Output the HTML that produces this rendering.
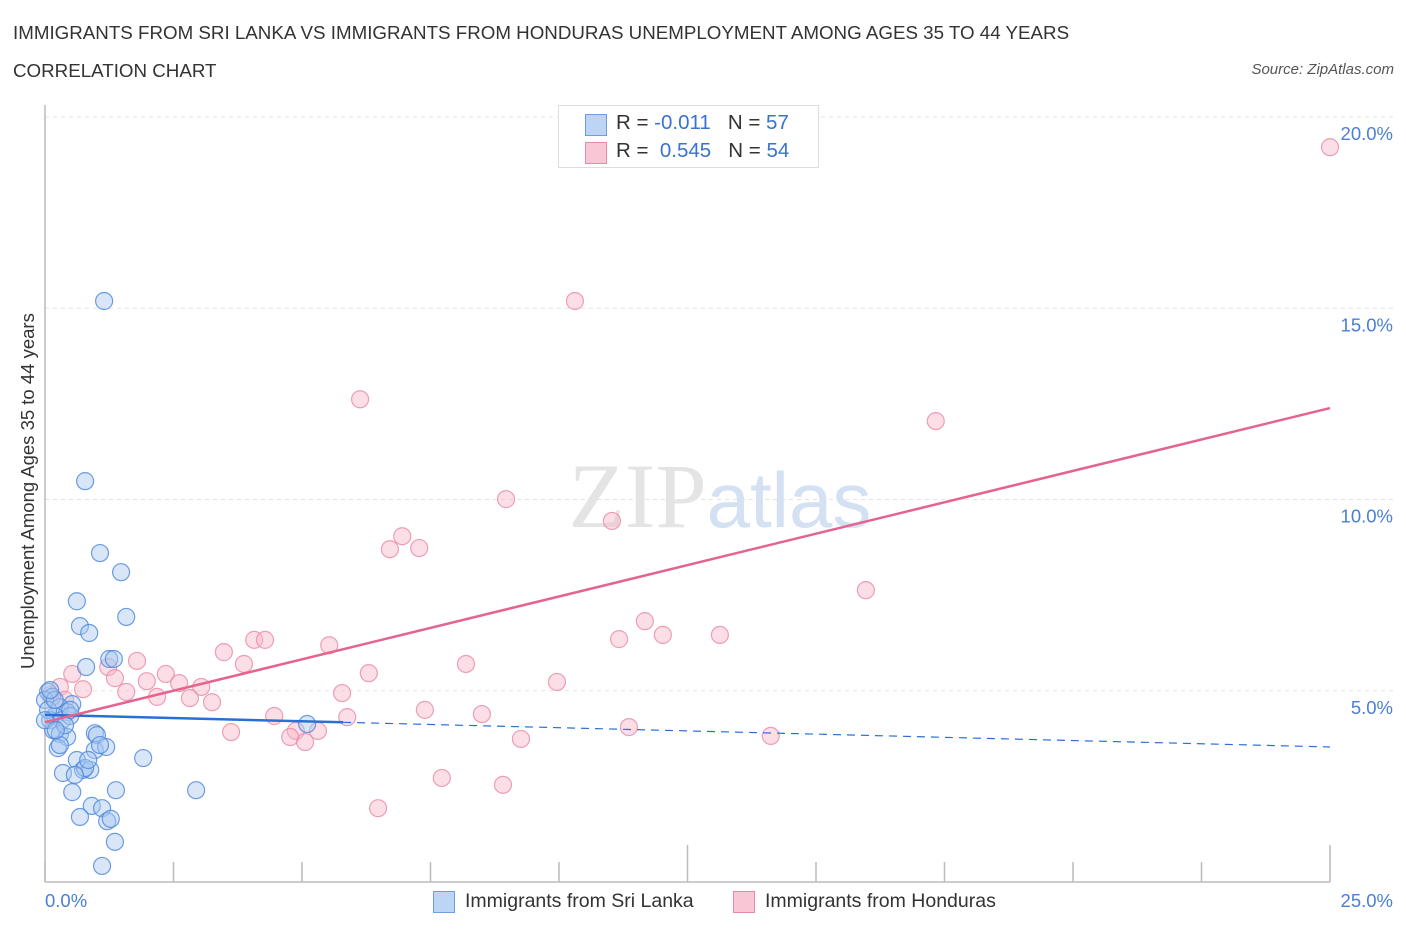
<!DOCTYPE html>
<html><head><meta charset="utf-8"><style>
body{margin:0;background:#fff;font-family:"Liberation Sans",sans-serif;}
#wrap{position:relative;width:1406px;height:930px;overflow:hidden;}
.t{position:absolute;white-space:nowrap;}
</style></head><body>
<div id="wrap">
<div class="t" style="left:13px;top:22px;font-size:18.75px;color:#333;">IMMIGRANTS FROM SRI LANKA VS IMMIGRANTS FROM HONDURAS UNEMPLOYMENT AMONG AGES 35 TO 44 YEARS</div>
<div class="t" style="left:13px;top:60px;font-size:18.75px;color:#333;">CORRELATION CHART</div>
<div class="t" style="right:12px;top:61px;font-size:15px;color:#555;font-style:italic;">Source: ZipAtlas.com</div>
<svg id="svg" width="1406" height="930" style="position:absolute;left:0;top:0"></svg>
</div>
<script>
const xTicks=[0,2.5,5,7.5,10,12.5,15,17.5,20,22.5,25];
const yTicks=[5,10,15,20];
const yTickLabels=["5.0%","10.0%","15.0%","20.0%"];
const blueX=[1.15,0.78,1.07,1.48,0.62,1.58,0.68,0.86,0.80,1.25,1.34,0.06,0.14,0.53,0.29,0.43,0.19,0.10,0.33,0.49,0.16,0.29,0.43,0.97,1.01,5.10,0.25,0.97,1.19,0.62,1.91,0.35,0.74,0.88,0.53,1.38,2.94,0.91,1.11,0.68,1.21,1.28,1.36,1.11,0,0.06,0.19,0.39,0.78,0,0.29,0.58,1.07,0.10,0.21,0.84,0.49];
const blueY=[15.19,10.48,8.60,8.10,7.34,6.93,6.69,6.51,5.62,5.83,5.83,4.97,4.84,4.65,4.57,4.44,4.34,4.23,4.23,4.34,3.97,3.87,3.79,3.89,3.84,4.13,3.50,3.45,3.53,3.19,3.24,2.85,2.93,2.93,2.35,2.40,2.40,1.99,1.93,1.70,1.59,1.65,1.05,0.42,4.76,4.50,4.76,4.10,2.98,4.23,3.58,2.80,3.58,5.02,3.97,3.19,4.50];
const pinkX=[25.0,10.31,6.13,17.33,8.97,11.03,6.95,6.71,7.28,15.97,11.67,11.17,12.02,13.13,3.48,4.07,4.28,5.53,1.79,3.87,8.19,1.23,2.35,0.53,1.36,6.30,1.98,2.61,3.04,9.96,0.29,0.74,1.58,5.78,2.18,2.82,3.25,7.39,4.46,8.50,5.88,11.36,3.62,4.88,5.31,4.77,5.06,14.12,9.26,7.72,8.91,6.48,0.10,0.39];
const pinkY=[19.21,15.19,12.62,12.05,10.01,9.44,9.04,8.70,8.73,7.63,6.82,6.35,6.46,6.46,6.01,6.33,6.33,6.19,5.78,5.70,5.70,5.62,5.44,5.44,5.33,5.46,5.25,5.20,5.10,5.23,5.10,5.04,4.97,4.94,4.84,4.81,4.70,4.50,4.34,4.39,4.31,4.05,3.92,3.95,3.95,3.79,3.66,3.82,3.74,2.72,2.54,1.93,4.89,4.76];
const blueTrend=[4.37,3.53];
const pinkTrend=[4.18,12.39];
const blueSolidEnd=5.8;

const NS="http://www.w3.org/2000/svg";
const svg=document.getElementById('svg');
const X0=45,X1=1330,Y0=882,Ytop=117;
const sx=v=>X0+(v/25)*(X1-X0);
const sy=v=>Y0-(v/20)*(Y0-Ytop);
function mk(tag,at){const e=document.createElementNS(NS,tag);for(const k in at)e.setAttribute(k,at[k]);svg.appendChild(e);return e;}
yTicks.forEach((t,i)=>{
 const g=mk('line',{x1:X0,x2:1395,y1:sy(t),y2:sy(t),stroke:'#e3e3e3','stroke-dasharray':'4,4'});
 
 
 const l=mk('text',{x:1393,y:sy(t)+23,'text-anchor':'end','font-size':18.5,fill:'#4a7fd6','font-family':'Liberation Sans'});
 l.textContent=yTickLabels[i];
 
 
});
const ax=mk('line',{x1:X0,x2:X1,y1:Y0,y2:Y0,stroke:'#bbb','stroke-width':1.5});


const ay=mk('line',{x1:X0,x2:X0,y1:105,y2:Y0,stroke:'#bbb','stroke-width':1.5});


xTicks.forEach(t=>{
 const tall=(t===12.5||t===25);
 const tk=mk('line',{x1:sx(t),x2:sx(t),y1:Y0,y2:tall?845:862,stroke:'#bbb','stroke-width':1.5});
 
 
});
const wm=mk('text',{x:720,y:527,'text-anchor':'middle','font-size':92,'font-family':'Liberation Serif',fill:'#e4e4e4'});
wm.innerHTML='ZIP<tspan font-family="Liberation Sans" font-size="78" fill="#d3e1f3">atlas</tspan>';


function pts(xs,ys,fill,stroke,name){
 xs.forEach((x,i)=>{
  const c=mk('circle',{cx:sx(x),cy:sy(ys[i]),r:8.5,fill:fill,'fill-opacity':0.45,stroke:stroke,'stroke-width':1.2,'stroke-opacity':0.8});
  
  
 });
}
pts(pinkX,pinkY,'#f7b6c8','#e88aa6','honduras-point');
pts(blueX,blueY,'#a9c8f0','#4a86dc','sri-lanka-point');
const bAt=v=>blueTrend[0]+(blueTrend[1]-blueTrend[0])*v/25;
const bl=mk('line',{x1:sx(0),y1:sy(bAt(0)),x2:sx(blueSolidEnd),y2:sy(bAt(blueSolidEnd)),stroke:'#2a6fd6','stroke-width':2.5});


const bd=mk('line',{x1:sx(blueSolidEnd),y1:sy(bAt(blueSolidEnd)),x2:sx(25),y2:sy(bAt(25)),stroke:'#2a6fd6','stroke-width':1.2,'stroke-dasharray':'8,6'});


const pl=mk('line',{x1:sx(0),y1:sy(pinkTrend[0]),x2:sx(25),y2:sy(pinkTrend[1]),stroke:'#e4648e','stroke-width':2.5});


</script>
<div class="t" style="left:45px;top:890px;font-size:18.5px;color:#4a7fd6;">0.0%</div>
<div class="t" style="right:13px;top:890px;font-size:18.5px;color:#4a7fd6;">25.0%</div>
<div class="t" style="left:-147px;top:483px;font-size:18.5px;color:#333;transform:rotate(-90deg);width:350px;text-align:center;">Unemployment Among Ages 35 to 44 years</div>
<div style="position:absolute;left:558px;top:105px;width:259px;height:61px;border:1px solid #ddd;background:#fff;">
 <div style="position:absolute;left:26px;top:8px;width:20px;height:20px;background:#bcd5f5;border:1px solid #6f9de0;"></div>
 <div class="t" style="left:57px;top:5px;font-size:20.5px;color:#333;">R = <span style="color:#3a72d0">-0.011</span>&nbsp;&nbsp;&nbsp;N = <span style="color:#3a72d0">57</span></div>
 <div style="position:absolute;left:26px;top:36px;width:20px;height:20px;background:#f9c6d5;border:1px solid #e88aa6;"></div>
 <div class="t" style="left:57px;top:33px;font-size:20.5px;color:#333;">R = &nbsp;<span style="color:#3a72d0">0.545</span>&nbsp;&nbsp;&nbsp;N = <span style="color:#3a72d0">54</span></div>
</div>
<div style="position:absolute;left:433px;top:891px;width:20px;height:20px;background:#bcd5f5;border:1px solid #6f9de0;"></div>
<div class="t" style="left:465px;top:890px;font-size:19.5px;color:#333;">Immigrants from Sri Lanka</div>
<div style="position:absolute;left:733px;top:891px;width:20px;height:20px;background:#f9c6d5;border:1px solid #e88aa6;"></div>
<div class="t" style="left:765px;top:890px;font-size:19.5px;color:#333;">Immigrants from Honduras</div>
</body></html>
